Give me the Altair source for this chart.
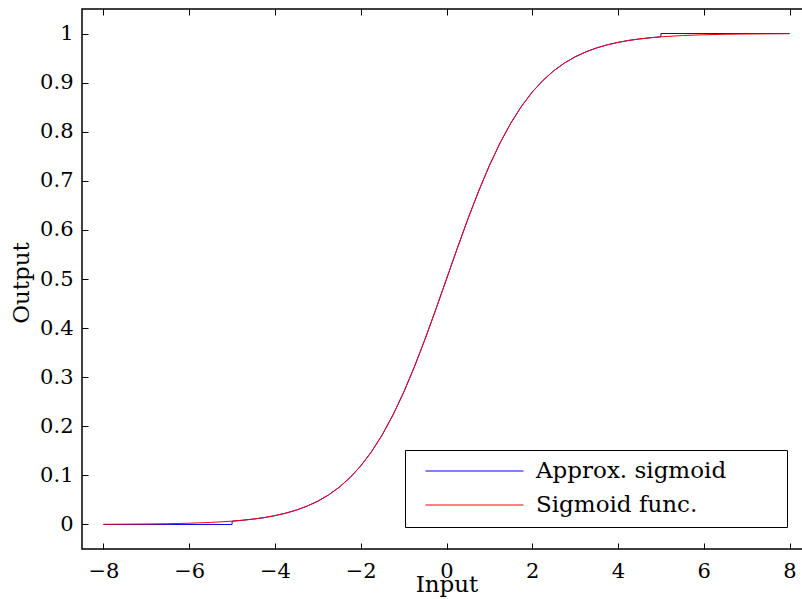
import altair as alt
import pandas as pd

# ---- data ----
sig_x = [-8.0, -7.5, -7.0, -6.5, -6.0, -5.5,
         -5.0, -4.75, -4.5, -4.25, -4.0, -3.75, -3.5, -3.25, -3.0, -2.75,
         -2.5, -2.25, -2.0, -1.75, -1.5, -1.25, -1.0, -0.75, -0.5, -0.25,
         0.0, 0.25, 0.5, 0.75, 1.0, 1.25, 1.5, 1.75, 2.0, 2.25, 2.5, 2.75,
         3.0, 3.25, 3.5, 3.75, 4.0, 4.25, 4.5, 4.75, 5.0,
         5.5, 6.0, 6.5, 7.0, 7.5, 8.0]
sig_y = [0.0003, 0.0006, 0.0009, 0.0015, 0.0025, 0.0041,
         0.0067, 0.0086, 0.0110, 0.0140, 0.0180, 0.0230, 0.0293, 0.0374, 0.0474, 0.0601,
         0.0759, 0.0953, 0.1192, 0.1480, 0.1824, 0.2227, 0.2689, 0.3208, 0.3775, 0.4378,
         0.5000, 0.5622, 0.6225, 0.6792, 0.7311, 0.7773, 0.8176, 0.8520, 0.8808, 0.9047, 0.9241, 0.9399,
         0.9526, 0.9626, 0.9707, 0.9770, 0.9820, 0.9860, 0.9890, 0.9914, 0.9933,
         0.9959, 0.9975, 0.9985, 0.9991, 0.9994, 0.9997]

# approximated sigmoid: flat 0 below -5, sigmoid in [-5, 5], flat 1 above 5
mid_idx = [i for i, v in enumerate(sig_x) if -5.0 <= v <= 5.0]
approx_x = [-8.0, -5.0] + [sig_x[i] for i in mid_idx] + [5.0, 8.0]
approx_y = [0.0, 0.0] + [sig_y[i] for i in mid_idx] + [1.0, 1.0]

series_names = ["Approx. sigmoid", "Sigmoid func."]
series_colors = ["blue", "red"]

x_ticks = [-8, -6, -4, -2, 0, 2, 4, 6, 8]
y_ticks = [0, 0.1, 0.2, 0.3, 0.4, 0.5, 0.6, 0.7, 0.8, 0.9, 1.0]

df_approx = pd.DataFrame({"x": approx_x, "y": approx_y,
                          "i": list(range(len(approx_x))),
                          "series": series_names[0]})
df_sig = pd.DataFrame({"x": sig_x, "y": sig_y,
                       "i": list(range(len(sig_x))),
                       "series": series_names[1]})
df_all = pd.concat([df_approx, df_sig], ignore_index=True)

FONT = "DejaVu Serif"
W, H = 729, 540

xs = alt.Scale(domain=[-8.5, 8.5], nice=False, zero=False)
ys = alt.Scale(domain=[-0.05, 1.05], nice=False, zero=False)

common_axis = dict(grid=False, domain=False, offset=-6, tickSize=6, tickColor="black",
                   tickWidth=1, labelFont=FONT, labelColor="black", titleFont=FONT,
                   titleColor="black", titleFontWeight="normal", titleFontSize=23,
                   labelFontSize=21)

x_bottom = alt.Axis(orient="bottom", values=x_ticks, format="d", labelPadding=11,
                    title="Input", titleX=W / 2, titleY=48, titleBaseline="alphabetic",
                    titleAlign="center", **common_axis)
y_left = alt.Axis(orient="left", values=y_ticks, format=".1~f", labelPadding=9,
                  title="Output", titleX=-60, titleY=273.5, titleBaseline="alphabetic",
                  titleAlign="center", titleAngle=270, **common_axis)
x_top = alt.Axis(orient="top", values=x_ticks, labels=False, title=None, grid=False,
                 domain=False, offset=-6, tickSize=6, tickColor="black")
y_right = alt.Axis(orient="right", values=y_ticks, labels=False, title=None, grid=False,
                   domain=False, offset=-6, tickSize=6, tickColor="black")

# blank (non-whitespace) padding so the legend frame extends to the right like the original
blank_pad = "\u2800" * 3
color = alt.Color("series:N",
                  scale=alt.Scale(domain=series_names, range=series_colors),
                  legend=alt.Legend(title=None, orient="none", legendX=323, legendY=441,
                                    symbolType="stroke", symbolSize=98 * 98,
                                    symbolStrokeWidth=1, clipHeight=23,
                                    labelFont=FONT, labelFontSize=23, labelColor="black",
                                    labelOffset=12, labelLimit=400,
                                    labelExpr=f"datum.label + '{blank_pad}'",
                                    rowPadding=10, padding=9.5, symbolOffset=10.5,
                                    strokeColor="black", fillColor="white"))

main_layer = alt.Chart(df_all).mark_line(strokeWidth=1).encode(
    x=alt.X("x:Q", scale=xs, axis=x_bottom),
    y=alt.Y("y:Q", scale=ys, axis=y_left),
    color=color,
    order="i:Q",
)
mirror_layer = alt.Chart(df_sig).mark_line(opacity=0).encode(
    x=alt.X("x:Q", scale=xs, axis=x_top),
    y=alt.Y("y:Q", scale=ys, axis=y_right),
)

chart = alt.layer(main_layer, mirror_layer).resolve_scale(
    x="independent", y="independent"
).properties(
    width=W, height=H,
    autosize=alt.AutoSizeParams(type="none"),
    padding={"left": 82, "top": 9, "right": -9, "bottom": 50},
    background="white",
).configure_view(stroke="black", strokeWidth=1.5)

chart.save("out.html", embed_options={"renderer": "svg", "actions": False})
